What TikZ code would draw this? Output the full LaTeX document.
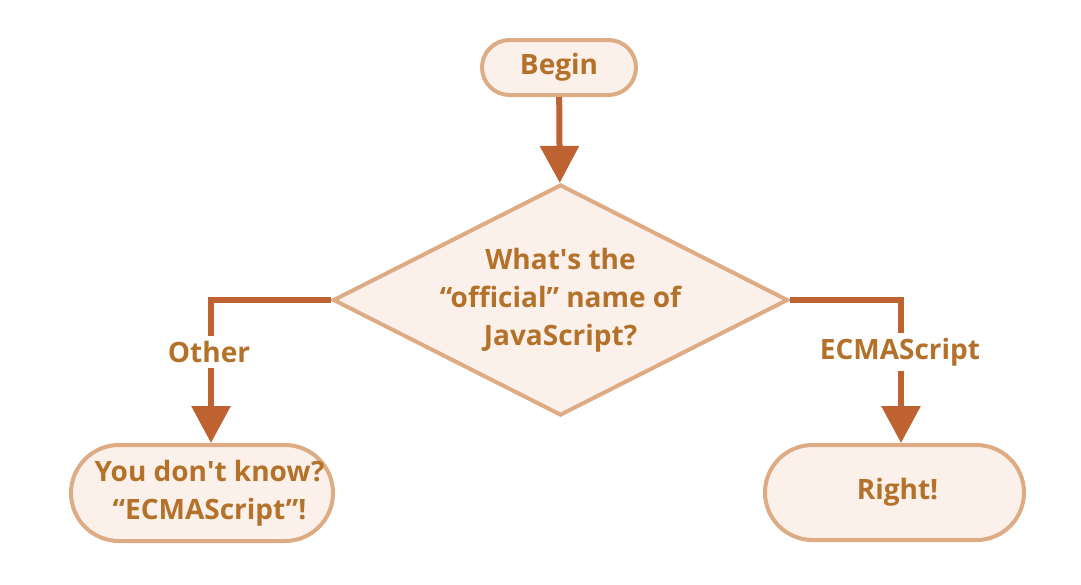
\documentclass[tikz,border=0pt]{standalone}
\usepackage{fontspec}
\setmainfont{Open Sans}
\usetikzlibrary{arrows.meta,shapes.geometric}
\definecolor{fillc}{HTML}{FBF1EA}
\definecolor{edgec}{HTML}{DDAC84}
\definecolor{textc}{HTML}{B4712A}
\definecolor{flowc}{HTML}{BF6232}
\newcommand{\chartfont}{\fontsize{28}{38}\selectfont\bfseries}

\begin{document}
\begin{tikzpicture}[x=1pt,y=-1pt,
  term/.style={rectangle,draw=edgec,fill=fillc,line width=4pt,text=textc,font=\chartfont,align=center,inner sep=0pt},
  decision/.style={diamond,draw=edgec,fill=fillc,line width=4pt,inner sep=0pt,minimum width=455pt,minimum height=231pt},
  qtext/.style={text=textc,font=\chartfont,align=center},
  lbl/.style={fill=white,text=textc,font=\chartfont,inner sep=5pt},
  flow/.style={draw=flowc,line width=6pt,-{Triangle[length=37pt,width=38pt]}}]
\useasboundingbox (0,0) rectangle (1081,584);
\draw (559,67.5) node[term,minimum width=154pt,minimum height=55pt,rounded corners=27.5pt] (Begin) {\raisebox{-2pt}{Begin}};
\draw (560.5,300) node[decision,label={[qtext]center:{What\textquotesingle s the\\“official” name of\\JavaScript?}}] (Q) {};
\draw (202,493) node[term,minimum width=262pt,minimum height=96pt,rounded corners=48pt] (No) {\hspace*{15pt}You don\textquotesingle t know?\\\hspace*{15pt}“ECMAScript”!};
\draw (894.5,492.5) node[term,minimum width=259pt,minimum height=95pt,rounded corners=47.5pt] (Yes) {\hspace*{6pt}Right!};

\draw[flow] (Begin) -- (Q);
\draw[flow] (Q.west) -| ([xshift=9pt]No.north);
\draw[flow] (Q.east) -| ([xshift=6.5pt]Yes.north);
\draw (209,352) node[lbl] (Other) {Other};
\draw (900,352) node[lbl] (Ecma) {ECMAScript};
\end{tikzpicture}
\end{document}
